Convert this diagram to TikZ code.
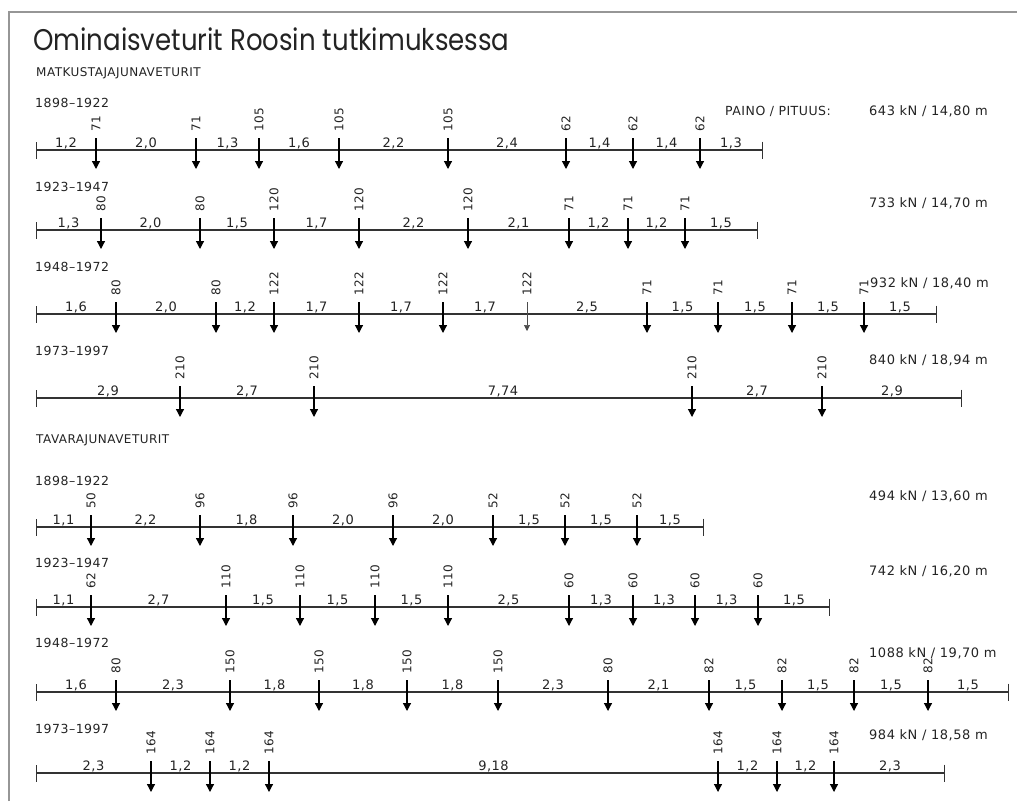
\documentclass[tikz,border=0pt]{standalone}
\usepackage{fontspec}
\setmainfont[LetterSpace=4]{DejaVu Sans}
\newfontfamily\titlefont{Poppins}
\usetikzlibrary{arrows.meta}

\begin{document}
\begin{tikzpicture}[x=1pt,y=-1pt,
    every node/.append style={text=inkgray},
    frame/.style={draw=framegray, line width=2pt},
    beam/.style={draw=black!80, line width=1.4pt,
        {Bar[width=17pt,line width=1pt]}-{Bar[width=17pt,line width=1pt]}},
    axle/.style={draw=black, line width=1.2pt, -{Triangle[width=8pt,length=8pt]}},
    thinaxle/.style={draw=black!70, line width=0.6pt, -{Triangle[width=6pt,length=6pt]}},
    load/.style={rotate=90, anchor=west, inner sep=1pt, font=\fontsize{12}{14}\selectfont},
    span/.style={anchor=base, inner sep=0pt, font=\fontsize{13}{15}\selectfont},
    year/.style={anchor=base west, inner sep=0pt, font=\fontsize{12.5}{15}\selectfont},
    info/.style={anchor=base west, inner sep=0pt, font=\fontsize{13}{15}\selectfont}]

    % Colors
    \definecolor{inkgray}{RGB}{35,35,35}
    \definecolor{framegray}{RGB}{150,150,150}

    \useasboundingbox (0,0) rectangle (1017,801);
    \draw[frame] (9,801) -- (9,12) -- (1017,12);

    % Heading
    \node[anchor=base west, inner sep=0pt, yscale=1.15, font=\titlefont\fontsize{26}{32}\selectfont]
        (title) at (33,50) {Ominaisveturit Roosin tutkimuksessa};
    \node[info, font=\fontsize{12}{14}\selectfont] (pass) at (36,76) {MATKUSTAJAJUNAVETURIT};
    \node[info, font=\fontsize{12.5}{15}\selectfont] (paino) at (725,115) {PAINO / PITUUS:};

    % Passenger 1898-1922
    \node[year] (p1y) at (35,107) {1898--1922};
    \draw[beam] (36,150) -- (763,150);
    \foreach \x/\w/\s [remember=\x as \px (initially 36)] in
        {96/71/{1,2},196/71/{2,0},259/105/{1,3},339/105/{1,6},448/105/{2,2},
         566/62/{2,4},633/62/{1,4},700/62/{1,4}}{
        \draw[axle] (\x,138) -- (\x,169);
        \node[load] (p1l\x) at (\x,133) {\w};
        \node[span] (p1s\x) at ({(\x+\px)/2},147) {\s};
    }
    \node[span] (p1se) at (731,147) {1,3};
    \node[info] (p1i) at (869,115) {643 kN / 14,80 m};

    % Passenger 1923-1947
    \node[year] (p2y) at (35,191) {1923--1947};
    \draw[beam] (36,230) -- (758,230);
    \foreach \x/\w/\s [remember=\x as \px (initially 36)] in
        {101/80/{1,3},200/80/{2,0},274/120/{1,5},359/120/{1,7},468/120/{2,2},
         569/71/{2,1},628/71/{1,2},685/71/{1,2}}{
        \draw[axle] (\x,218) -- (\x,249);
        \node[load] (p2l\x) at (\x,213) {\w};
        \node[span] (p2s\x) at ({(\x+\px)/2},227) {\s};
    }
    \node[span] (p2se) at (721,227) {1,5};
    \node[info] (p2i) at (869,207) {733 kN / 14,70 m};

    % Passenger 1948-1972
    \node[year] (p3y) at (35,271) {1948--1972};
    \draw[beam] (36,314) -- (937,314);
    \foreach \x/\w/\s [remember=\x as \px (initially 36)] in
        {116/80/{1,6},216/80/{2,0},274/122/{1,2},359/122/{1,7},443/122/{1,7}}{
        \draw[axle] (\x,302) -- (\x,333);
        \node[load] (p3l\x) at (\x,297) {\w};
        \node[span] (p3s\x) at ({(\x+\px)/2},311) {\s};
    }
    \draw[thinaxle] (527,302) -- (527,331);
    \node[load] (p3l527) at (527,297) {122};
    \node[span] (p3s527) at (485,311) {1,7};
    \foreach \x/\w/\s [remember=\x as \px (initially 527)] in
        {647/71/{2,5},718/71/{1,5},792/71/{1,5},864/71/{1,5}}{
        \draw[axle] (\x,302) -- (\x,333);
        \node[load] (p3l\x) at (\x,297) {\w};
        \node[span] (p3s\x) at ({(\x+\px)/2},311) {\s};
    }
    \node[span] (p3se) at (900,311) {1,5};
    \node[info] (p3i) at (870,287) {932 kN / 18,40 m};

    % Passenger 1973-1997
    \node[year] (p4y) at (35,355) {1973--1997};
    \draw[beam] (36,398) -- (962,398);
    \foreach \x/\w/\s [remember=\x as \px (initially 36)] in
        {180/210/{2,9},314/210/{2,7},692/210/{7,74},822/210/{2,7}}{
        \draw[axle] (\x,386) -- (\x,417);
        \node[load] (p4l\x) at (\x,381) {\w};
        \node[span] (p4s\x) at ({(\x+\px)/2},395) {\s};
    }
    \node[span] (p4se) at (892,395) {2,9};
    \node[info] (p4i) at (869,364) {840 kN / 18,94 m};

    % Freight
    \node[info, font=\fontsize{12}{14}\selectfont] (freight) at (36,443) {TAVARAJUNAVETURIT};

    % Freight 1898-1922
    \node[year] (f1y) at (35,485) {1898--1922};
    \draw[beam] (36,527) -- (704,527);
    \foreach \x/\w/\s [remember=\x as \px (initially 36)] in
        {91/50/{1,1},200/96/{2,2},293/96/{1,8},393/96/{2,0},493/52/{2,0},
         565/52/{1,5},637/52/{1,5}}{
        \draw[axle] (\x,515) -- (\x,546);
        \node[load] (f1l\x) at (\x,510) {\w};
        \node[span] (f1s\x) at ({(\x+\px)/2},524) {\s};
    }
    \node[span] (f1se) at (670,524) {1,5};
    \node[info] (f1i) at (869,500) {494 kN / 13,60 m};

    % Freight 1923-1947
    \node[year] (f2y) at (35,567) {1923--1947};
    \draw[beam] (36,607) -- (830,607);
    \foreach \x/\w/\s [remember=\x as \px (initially 36)] in
        {91/62/{1,1},226/110/{2,7},300/110/{1,5},375/110/{1,5},448/110/{1,5},
         569/60/{2,5},633/60/{1,3},695/60/{1,3},758/60/{1,3}}{
        \draw[axle] (\x,595) -- (\x,626);
        \node[load] (f2l\x) at (\x,590) {\w};
        \node[span] (f2s\x) at ({(\x+\px)/2},604) {\s};
    }
    \node[span] (f2se) at (794,604) {1,5};
    \node[info] (f2i) at (869,575) {742 kN / 16,20 m};

    % Freight 1948-1972
    \node[year] (f3y) at (35,647) {1948--1972};
    \draw[beam] (36,692) -- (1009,692);
    \foreach \x/\w/\s [remember=\x as \px (initially 36)] in
        {116/80/{1,6},230/150/{2,3},319/150/{1,8},407/150/{1,8},498/150/{1,8},
         608/80/{2,3},709/82/{2,1},782/82/{1,5},854/82/{1,5},928/82/{1,5}}{
        \draw[axle] (\x,680) -- (\x,711);
        \node[load] (f3l\x) at (\x,675) {\w};
        \node[span] (f3s\x) at ({(\x+\px)/2},689) {\s};
    }
    \node[span] (f3se) at (968,689) {1,5};
    \node[info] (f3i) at (869,657) {1088 kN / 19,70 m};

    % Freight 1973-1997
    \node[year] (f4y) at (35,733) {1973--1997};
    \draw[beam] (36,773) -- (945,773);
    \foreach \x/\w/\s [remember=\x as \px (initially 36)] in
        {151/164/{2,3},210/164/{1,2},269/164/{1,2},718/164/{9,18},777/164/{1,2},
         834/164/{1,2}}{
        \draw[axle] (\x,761) -- (\x,792);
        \node[load] (f4l\x) at (\x,756) {\w};
        \node[span] (f4s\x) at ({(\x+\px)/2},770) {\s};
    }
    \node[span] (f4se) at (890,770) {2,3};
    \node[info] (f4i) at (869,739) {984 kN / 18,58 m};

\end{tikzpicture}
\end{document}
